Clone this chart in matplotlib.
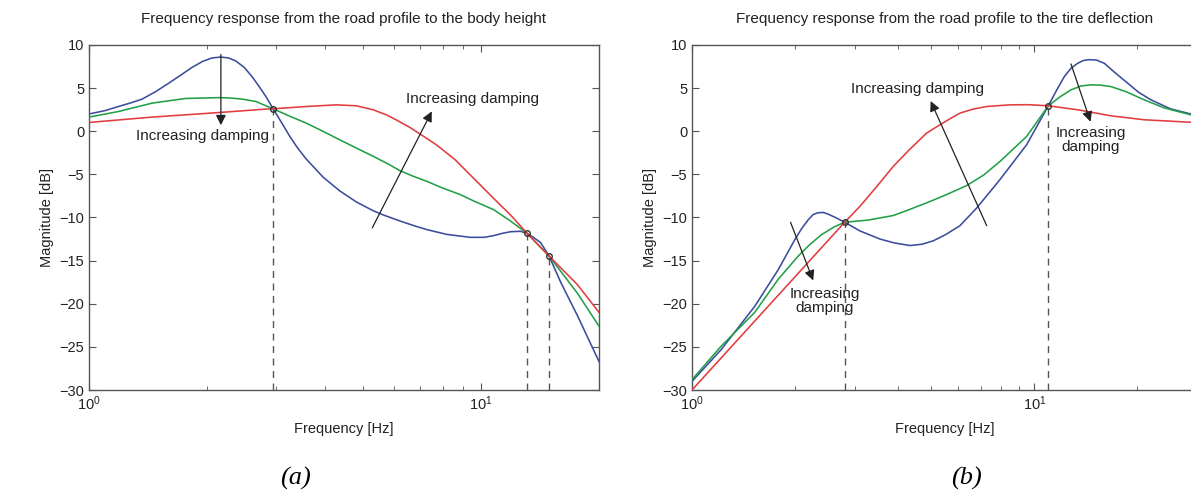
import numpy as np
import matplotlib.pyplot as plt

plt.rcParams['font.family'] = ['Liberation Sans', 'DejaVu Sans']
plt.rcParams['mathtext.fontset'] = 'custom'
plt.rcParams['mathtext.rm'] = 'Liberation Sans'

BLUE = '#3b4d9c'
GREEN = '#22a046'
RED = '#e23c3e'

# (a) road profile -> body height
fa_blue = [1.0, 1.1, 1.189, 1.28, 1.365, 1.48, 1.597, 1.72, 1.834, 1.95, 2.06, 2.167, 2.27, 2.368,
           2.49, 2.614, 2.72, 2.827, 2.95, 3.1, 3.243, 3.4, 3.579, 3.951, 4.357, 4.81, 5.3, 5.63,
           6.21, 6.8, 7.27, 8.18, 9.39, 10.2, 10.78, 11.3, 11.89, 12.61, 13.12, 13.6, 14.19, 14.92,
           15.97, 17.63, 20.0]
db_blue_a = [2.0, 2.4, 2.87, 3.3, 3.72, 4.6, 5.57, 6.55, 7.42, 8.1, 8.5, 8.6, 8.5, 8.15,
             7.4, 6.25, 5.15, 4.02, 2.6, 1.0, -0.5, -1.9, -3.2, -5.3, -6.9, -8.2, -9.2, -9.7,
             -10.4, -11.0, -11.4, -11.96, -12.3, -12.3, -12.1, -11.85, -11.65, -11.6, -11.85, -12.3, -12.9, -14.47,
             -17.5, -21.4, -26.7]
fa_green = [1.0, 1.189, 1.448, 1.763, 2.146, 2.3, 2.464, 2.665, 2.95, 3.25, 3.579, 3.95, 4.357, 4.81,
            5.307, 5.8, 6.21, 6.7, 7.27, 8.0, 8.85, 9.6, 10.78, 11.89, 13.12, 14.92, 17.63, 20.0]
db_green_a = [1.64, 2.29, 3.26, 3.8, 3.9, 3.85, 3.72, 3.45, 2.6, 1.75, 0.95, 0.0, -0.98, -1.95,
              -2.9, -3.8, -4.57, -5.2, -5.8, -6.6, -7.34, -8.1, -9.1, -10.4, -11.85, -14.47, -18.8, -22.6]
fa_red = [1.0, 1.448, 2.146, 2.827, 2.95, 3.579, 4.274, 4.81, 5.307, 5.74, 6.09, 6.58, 7.09, 7.71,
          8.59, 9.6, 10.78, 11.89, 13.12, 14.92, 17.63, 20.0]
db_red_a = [1.02, 1.64, 2.17, 2.57, 2.6, 2.87, 3.06, 2.95, 2.49, 1.9, 1.3, 0.45, -0.5, -1.6,
            -3.3, -5.5, -7.8, -9.7, -11.85, -14.47, -17.8, -21.0]
cross_f_a = [2.95, 13.12, 14.92]
cross_db_a = [2.6, -11.85, -14.47]

# (b) road profile -> tire deflection
fb_blue = [1.0, 1.218, 1.525, 1.783, 1.995, 2.09, 2.182, 2.26, 2.334, 2.42, 2.497, 2.64, 2.793, 3.096,
           3.542, 3.9, 4.335, 4.7, 5.07, 5.5, 6.066, 6.787, 7.94, 9.5, 10.99, 11.6, 12.24, 12.8,
           13.39, 13.9, 14.48, 15.2, 16.02, 17.2, 18.75, 20.2, 21.93, 25.0, 30.0]
db_blue_b = [-29.0, -25.3, -20.3, -16.1, -12.6, -11.3, -10.3, -9.65, -9.45, -9.42, -9.6, -10.05, -10.55, -11.56,
             -12.5, -12.95, -13.25, -13.1, -12.7, -12.0, -10.95, -8.9, -5.6, -1.56, 2.95, 4.7, 6.34, 7.3,
             7.88, 8.2, 8.3, 8.25, 7.88, 6.8, 5.57, 4.5, 3.64, 2.6, 1.8]
fb_green = [1.0, 1.218, 1.525, 1.783, 2.04, 2.2, 2.387, 2.6, 2.793, 3.268, 3.874, 4.3, 4.85, 5.5,
            6.346, 7.1, 7.94, 9.5, 10.99, 11.9, 12.8, 13.7, 14.65, 15.6, 16.75, 18.5, 20.96, 24.0, 30.0]
db_green_b = [-28.8, -24.9, -21.0, -17.2, -14.5, -13.2, -12.0, -11.1, -10.55, -10.3, -9.77, -9.1, -8.3, -7.4,
              -6.3, -5.1, -3.5, -0.6, 2.95, 4.0, 4.8, 5.25, 5.38, 5.35, 5.18, 4.6, 3.64, 2.7, 1.7]
fb_red = [1.0, 2.793, 3.096, 3.45, 3.874, 4.3, 4.85, 5.3, 5.7, 6.066, 6.6, 7.26, 8.49, 9.6,
          10.99, 13.39, 16.75, 20.96, 30.0]
db_red_b = [-30.0, -10.55, -8.7, -6.5, -4.07, -2.2, -0.2, 0.75, 1.5, 2.1, 2.55, 2.87, 3.06, 3.08,
            2.95, 2.49, 1.79, 1.33, 1.0]
cross_f_b = [2.79, 10.99]
cross_db_b = [-10.55, 2.95]


def style(ax, xmax, title):
    ax.set_xscale('log')
    ax.set_xlim(1, xmax)
    ax.set_ylim(-30, 10)
    ax.set_yticks(np.arange(-30, 11, 5))
    for s in ax.spines.values():
        s.set_color('#555555')
        s.set_linewidth(1.0)
    ax.tick_params(which='both', direction='in', top=True, right=True, color='#555555',
                   labelsize=10.5, labelcolor='#222222')
    ax.tick_params(which='major', length=5)
    ax.tick_params(which='minor', length=3)
    ax.set_xlabel('Frequency [Hz]', fontsize=10.5, color='#222222', labelpad=6)
    ax.set_ylabel('Magnitude [dB]', fontsize=10.5, color='#222222', labelpad=4)
    ax.set_title(title, fontsize=11, color='#222222', pad=16)


def curves(ax, data, cf, cdb):
    for f, db, c in data:
        ax.plot(f, db, color=c, lw=1.15, zorder=3)
    for f, d in zip(cf, cdb):
        ax.plot([f, f], [-30, d], ls=(0, (5, 4)), color='#555555', lw=1.0, zorder=2)
    ax.plot(cf, cdb, 'o', ms=4, mfc='none', mec='#333333', mew=1.0, zorder=4)


def arrow(ax, tail, head):
    ax.annotate('', xy=head, xytext=tail,
                arrowprops=dict(arrowstyle='-|>', color='#222222', lw=0.9,
                                mutation_scale=15, shrinkA=0, shrinkB=0), zorder=5)


fig = plt.figure(figsize=(11.91, 4.95), dpi=100)

ax1 = fig.add_axes([89 / 1191, 105 / 495, 510 / 1191, 345 / 495])
style(ax1, 20, 'Frequency response from the road profile to the body height')
curves(ax1, [(fa_blue, db_blue_a, BLUE), (fa_green, db_green_a, GREEN), (fa_red, db_red_a, RED)],
       cross_f_a, cross_db_a)
arrow(ax1, (2.17, 8.9), (2.17, 0.7))
ax1.text(1.95, -0.6, 'Increasing damping', ha='center', va='center', fontsize=11, color='#222222')
arrow(ax1, (5.28, -11.2), (7.49, 2.3))
ax1.text(9.52, 3.76, 'Increasing damping', ha='center', va='center', fontsize=11, color='#222222')

ax2 = fig.add_axes([692 / 1191, 105 / 495, 505.6 / 1191, 345 / 495])
style(ax2, 30, 'Frequency response from the road profile to the tire deflection')
curves(ax2, [(fb_blue, db_blue_b, BLUE), (fb_green, db_green_b, GREEN), (fb_red, db_red_b, RED)],
       cross_f_b, cross_db_b)
arrow(ax2, (1.94, -10.55), (2.26, -17.3))
ax2.text(2.44, -19.7, 'Increasing\ndamping', ha='center', va='center', fontsize=11,
         color='#222222', linespacing=0.95)
arrow(ax2, (7.26, -10.95), (4.98, 3.5))
ax2.text(4.57, 4.9, 'Increasing damping', ha='center', va='center', fontsize=11, color='#222222')
arrow(ax2, (12.8, 7.8), (14.6, 1.1))
ax2.text(14.6, -1.0, 'Increasing\ndamping', ha='center', va='center', fontsize=11,
         color='#222222', linespacing=0.95)

fig.text(295 / 1191, 1 - 478 / 495, '(a)', ha='center', va='center', fontsize=19,
         family='Liberation Serif', style='italic')
fig.text(966 / 1191, 1 - 478 / 495, '(b)', ha='center', va='center', fontsize=19,
         family='Liberation Serif', style='italic')

fig.savefig('out.png', dpi=100)
